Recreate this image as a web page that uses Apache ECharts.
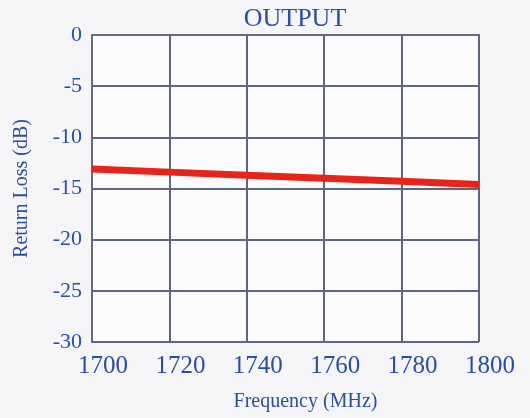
<!DOCTYPE html>
<html>
<head>
<meta charset="utf-8">
<script src="https://cdn.jsdelivr.net/npm/echarts@6/dist/echarts.min.js"></script>
<style>
  html, body { margin: 0; padding: 0; background: #f5f5f7; }
  #chart { width: 530px; height: 418px; }
</style>
</head>
<body>
<div id="chart"></div>
<script>
// Output return loss vs frequency
const freqs = [1700, 1720, 1740, 1760, 1780, 1800];
const returnLoss = [-13.1, -13.4, -13.7, -14.0, -14.3, -14.6];
const yTicks = [0, -5, -10, -15, -20, -25, -30];

const textBlue = '#2a4ea0';
const font = '"Liberation Serif", "DejaVu Serif", serif';

const chart = echarts.init(document.getElementById('chart'));
chart.setOption({
  backgroundColor: '#f5f5f7',
  animation: false,
  title: {
    text: 'OUTPUT',
    left: 290,
    textAlign: 'center',
    top: 1,
    textStyle: { fontFamily: font, fontWeight: 'normal', fontSize: 26, color: textBlue }
  },
  grid: { left: 92, right: 51, top: 35, bottom: 76, backgroundColor: '#fbfbfd', show: true, borderWidth: 0 },
  xAxis: {
    type: 'value',
    min: freqs[0],
    max: freqs[freqs.length - 1],
    interval: 20,
    name: 'Frequency (MHz)',
    nameLocation: 'middle',
    nameGap: 50,
    nameTextStyle: { fontFamily: font, fontSize: 20, color: textBlue, padding: [0, 0, 0, 40] },
    axisLine: { show: true, lineStyle: { color: '#666a78', width: 2 } },
    axisTick: { show: false },
    axisLabel: {
      fontFamily: font, fontSize: 25, color: textBlue, margin: 12,
      padding: [0, 0, 0, 22],
      formatter: v => String(v)
    },
    splitLine: { show: true, lineStyle: { color: '#5d6680', width: 2 } }
  },
  yAxis: {
    type: 'value',
    min: -30,
    max: 0,
    interval: 5,
    name: 'Return Loss (dB)',
    nameLocation: 'middle',
    nameGap: 60,
    nameTextStyle: { fontFamily: font, fontSize: 20, color: textBlue },
    axisLine: { show: true, lineStyle: { color: '#666a78', width: 2 } },
    axisTick: { show: false },
    axisLabel: {
      fontFamily: font, fontSize: 22, color: textBlue, margin: 10,
      formatter: v => yTicks.includes(v) ? String(v) : ''
    },
    splitLine: { show: true, lineStyle: { color: '#5d6680', width: 2 } }
  },
  series: [{
    type: 'line',
    data: freqs.map((f, i) => [f, returnLoss[i]]),
    showSymbol: false,
    lineStyle: { color: '#e8231a', width: 7 },
    z: 5
  }]
});
</script>
</body>
</html>
